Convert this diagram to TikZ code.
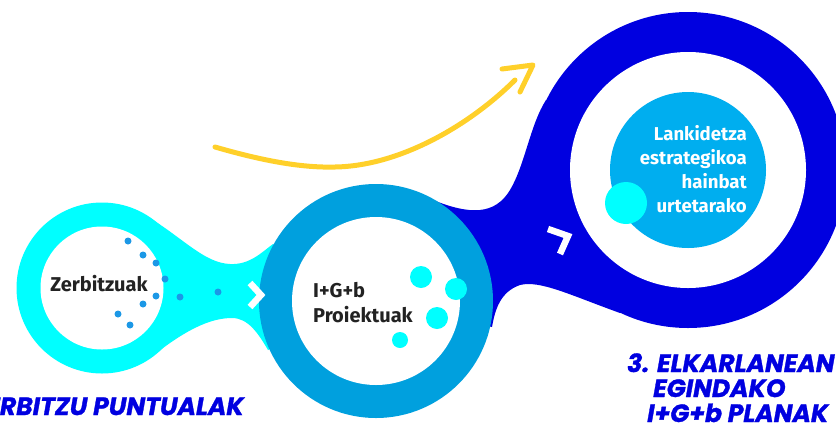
\documentclass[tikz,border=0pt]{standalone}
\usepackage{fontspec}
\setmainfont{Fira Sans}
\newfontfamily\headfont[FakeBold=1.2]{Poppins}
\definecolor{cyanc}{RGB}{0,255,255}
\definecolor{midb}{RGB}{0,160,222}
\definecolor{darkb}{RGB}{0,0,224}
\definecolor{lightb}{RGB}{0,174,239}
\definecolor{dotb}{RGB}{28,152,230}
\definecolor{yell}{RGB}{255,208,42}
\definecolor{txt}{RGB}{34,34,34}
\tikzset{
  ring/.style={circle, inner sep=0pt, draw=none},
  chev/.style={draw=white, line width=6.5pt, line join=miter, line cap=butt},
  bodytxt/.style={font=\bfseries\fontsize{20}{24}\selectfont, text=txt, inner sep=0pt},
  whtxt/.style={font=\bfseries\fontsize{18.6}{24}\selectfont, text=white, inner sep=0pt},
  headtxt/.style={font=\headfont\bfseries\itshape\fontsize{25}{25}\selectfont, text=darkb, inner sep=0pt},
  ldot/.style={circle, fill=dotb, inner sep=0pt, minimum size=7pt},
  cdot/.style={circle, fill=cyanc, inner sep=0pt}
}
\begin{document}
\begin{tikzpicture}[x=1pt,y=-1pt]
\useasboundingbox (0,0) rectangle (836,424);
\clip (0,0) rectangle (836,424);

% cyan neck between first and second circle
\fill[cyanc] (150,218) .. controls (185,240) and (205,263) .. (230,264)
  .. controls (250,265) and (262,252) .. (273,244) -- (376,301) -- (268,350)
  .. controls (258,333) and (248,318) .. (232,318)
  .. controls (210,318) and (185,330) .. (150,358) -- (102,288) -- cycle;

% dark blue neck between second and third circle
\fill[darkb] (376,301) -- (433,200) .. controls (470,215) and (495,215) .. (510,190)
  .. controls (525,165) and (530,125) .. (546,100) -- (688,170) -- (620,313)
  .. controls (570,295) and (540,280) .. (520,285)
  .. controls (500,292) and (495,310) .. (492,327) -- cycle;

% first circle
\node[ring, fill=cyanc, minimum size=171pt] (c1) at (102,288) {};
\node[ring, fill=white, minimum size=123pt] (c1in) at (102,288) {};

% second circle
\node[ring, fill=midb, minimum size=234pt] (c2) at (376,301) {};
\node[ring, fill=white, minimum size=168pt] (c2in) at (376,301) {};

% third circle
\node[ring, fill=darkb, minimum size=316pt] (c3) at (688,170) {};
\node[ring, fill=white, minimum size=236pt] (c3in) at (688,170) {};
\node[ring, fill=lightb, minimum size=156pt] (c3core) at (688,170) {};
\node[cdot, minimum size=42pt] (c3dot) at (626,203) {};

% dots in first circle and neck
\node[ldot] (d1) at (128,241) {};
\node[ldot] (d2) at (143,255) {};
\node[ldot] (d3) at (156,263) {};
\node[ldot] (d4) at (165,279) {};
\node[ldot] (d5) at (156,296) {};
\node[ldot] (d6) at (143,304) {};
\node[ldot] (d7) at (118,314) {};
\node[ldot] (d8) at (130,325) {};
\node[ldot] (d9) at (180,297) {};
\node[ldot] (d10) at (218,292) {};

% cyan dots in second circle
\node[cdot, minimum size=22pt] (e1) at (421,277) {};
\node[cdot, minimum size=22pt] (e2) at (456,289) {};
\node[cdot, minimum size=22pt] (e3) at (437,318) {};
\node[cdot, minimum size=16pt] (e4) at (400,340) {};

% chevrons
\draw[chev] (250,283) -- (261,295) -- (250,307);
\draw[chev] (548,229) -- (568,236) -- (560,254);

% yellow arrow
\coordinate (ys) at (215,147);
\coordinate (ym) at (335,167);
\coordinate (ye) at (515,80);
\coordinate (ytip) at (533,65);
\draw[yell, line width=5pt, line cap=round] (ys) .. controls (260,160) and (300,168) .. (ym)
  .. controls (400,166) and (470,125) .. (ye);
\draw[yell, line width=5pt, line cap=round, line join=round] (502,69) -- (ytip) -- (520,92);

% texts
\node[bodytxt, anchor=base] (t1) at (99,291) {Zerbitzuak};
\node[bodytxt, anchor=base west] (t2a) at (313,297) {I+G+b};
\node[bodytxt, anchor=base west] (t2b) at (313,322) {Proiektuak};
\node[whtxt, anchor=base east] (t3a) at (747,140) {Lankidetza};
\node[whtxt, anchor=base east] (t3b) at (747,164) {estrategikoa};
\node[whtxt, anchor=base east] (t3c) at (747,188) {hainbat};
\node[whtxt, anchor=base east] (t3d) at (747,212) {urtetarako};

\node[headtxt, anchor=base east] (h1) at (244,415) {1. ZERBITZU PUNTUALAK};
\node[headtxt, anchor=base west] (h3a) at (627,372) {3. ELKARLANEAN};
\node[headtxt, anchor=base west] (h3b) at (653,397) {EGINDAKO};
\node[headtxt, anchor=base west] (h3c) at (647,422) {I+G+b PLANAK};
\end{tikzpicture}
\end{document}
